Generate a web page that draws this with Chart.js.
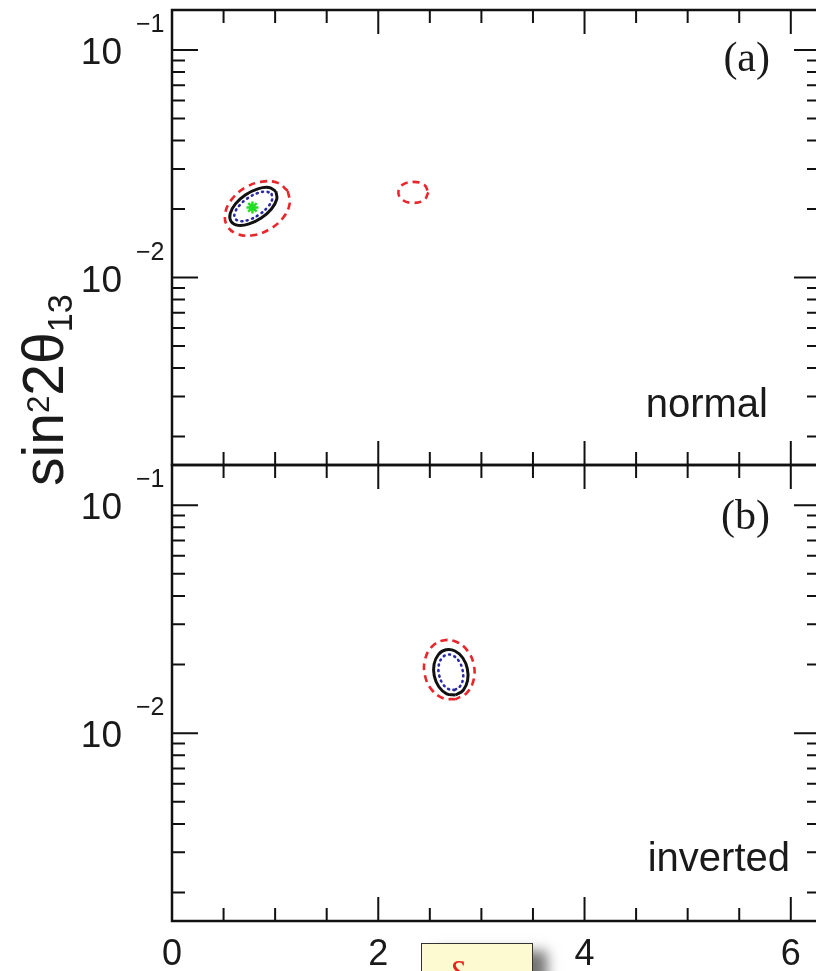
<!DOCTYPE html>
<html lang="en">
<head>
  <meta charset="UTF-8" />
  <title>sin²2θ13 vs δ</title>
  <script src="https://cdn.jsdelivr.net/npm/chart.js"></script>
  <style>
    html, body {
      margin: 0;
      background: #fff;
      overflow: hidden;
    }
    body {
      position: relative;
      width: 816px;
      height: 971px;
      font-family: "Liberation Sans", Arial, sans-serif;
    }
    canvas {
      position: absolute;
      left: 0;
      top: 0;
    }
    #ytitle {
      position: absolute;
      left: 15px;
      top: 486px;
      font-size: 57px;
      line-height: 57px;
      color: #1a1a1a;
      white-space: nowrap;
      transform-origin: 0 0;
      transform: rotate(-90deg);
    }
    #ytitle sup, #ytitle sub {
      line-height: 0;
      font-size: 0.6em;
    }
    #ytitle sup { vertical-align: 0.45em; font-size: 0.55em; }
    #ytitle sub { vertical-align: -0.25em; }
    #dbox {
      position: absolute;
      left: 421px;
      top: 943px;
      width: 110px;
      height: 60px;
      background: #fdfad2;
      border: 1.5px solid #333;
      box-shadow: 14px 8px 12px rgba(0,0,0,0.55);
    }
    #dbox span {
      position: absolute;
      left: 26px;
      top: 12px;
      font: 40px "Liberation Serif", serif;
      line-height: 40px;
      color: #e8231c;
    }
  </style>
</head>
<body>

  <canvas id="topChart" width="830" height="971"></canvas>
  <canvas id="botChart" width="830" height="971"></canvas>
  <div id="ytitle">sin<sup>2</sup>2θ<sub>13</sub></div>
  <div id="dbox"><span>δ</span></div>

  <script>
    // axis ticks
    const xMajorTicks = [0, 2, 4, 6];
    const xTickLabels = ["0", "2", "4", "6"];
    const xMinorTicks = [0.5, 1, 1.5, 2.5, 3, 3.5, 4.5, 5, 5.5];
    const yMajorTicks = [0.1, 0.01];
    const yExponents = ["\u22121", "\u22122"];
    const yMinorTicks = [0.002, 0.003, 0.004, 0.005, 0.006, 0.007, 0.008, 0.009,
                         0.02, 0.03, 0.04, 0.05, 0.06, 0.07, 0.08, 0.09];

    // (a) normal hierarchy
    const aRedDelta   = [1.122, 1.141, 1.077, 0.945, 0.782, 0.633, 0.535, 0.516, 0.581, 0.712, 0.875, 1.025];
    const aRedSin     = [0.02405, 0.02114, 0.01832, 0.01630, 0.01534, 0.01553, 0.01686, 0.01918, 0.02211, 0.02487, 0.02640, 0.02608];
    const aBlackDelta = [1.007, 1.016, 0.964, 0.865, 0.747, 0.640, 0.573, 0.564, 0.615, 0.714, 0.832, 0.940];
    const aBlackSin   = [0.02395, 0.02213, 0.02003, 0.01827, 0.01721, 0.01696, 0.01764, 0.01908, 0.02108, 0.02311, 0.02455, 0.02489];
    const aBlueDelta  = [0.966, 0.970, 0.924, 0.844, 0.748, 0.664, 0.613, 0.609, 0.655, 0.735, 0.831, 0.916];
    const aBlueSin    = [0.02328, 0.02195, 0.02032, 0.01889, 0.01796, 0.01770, 0.01814, 0.01924, 0.02078, 0.02235, 0.02352, 0.02385];
    const aIslandDelta = [2.485, 2.447, 2.340, 2.234, 2.195, 2.234, 2.340, 2.447];
    const aIslandSin   = [0.02368, 0.02195, 0.02129, 0.02195, 0.02368, 0.02556, 0.02634, 0.02556];
    const aBestDelta = [0.780];
    const aBestSin   = [0.02034];

    // (b) inverted hierarchy
    const bRedDelta   = [2.749, 2.623, 2.514, 2.452, 2.453, 2.518, 2.629, 2.755, 2.864, 2.926, 2.924, 2.859];
    const bRedSin     = [0.01408, 0.01426, 0.01560, 0.01797, 0.02101, 0.02388, 0.02551, 0.02518, 0.02302, 0.01997, 0.01708, 0.01503];
    const bBlackDelta = [2.750, 2.663, 2.587, 2.543, 2.541, 2.583, 2.657, 2.744, 2.820, 2.864, 2.866, 2.824];
    const bBlackSin   = [0.01470, 0.01488, 0.01598, 0.01783, 0.02005, 0.02211, 0.02320, 0.02293, 0.02136, 0.01914, 0.01701, 0.01543];
    const bBlueDelta  = [2.739, 2.677, 2.623, 2.590, 2.586, 2.615, 2.668, 2.730, 2.784, 2.817, 2.821, 2.792];
    const bBlueSin    = [0.01545, 0.01564, 0.01652, 0.01801, 0.01975, 0.02129, 0.02209, 0.02182, 0.02065, 0.01895, 0.01727, 0.01603];

    const X_MAX = 6.2832;
    const Y_MIN = 0.0015, Y_MAX = 0.15;

    // closed contour: join the arrays and repeat the first point at the end
    function loop(xs, ys) {
      const pts = xs.map((v, i) => ({ x: v, y: ys[i] }));
      pts.push({ x: xs[0], y: ys[0] });
      return pts;
    }

    function red(pts)   { return { data: pts, showLine: true, borderColor: '#e8262b', borderWidth: 2.6, borderDash: [7, 5], tension: 0.4, pointRadius: 0 }; }
    function black(pts) { return { data: pts, showLine: true, borderColor: '#111', borderWidth: 3, tension: 0.4, pointRadius: 0 }; }
    function blue(pts)  { return { data: pts, showLine: true, borderColor: '#2a2aa8', borderWidth: 2.6, borderDash: [1, 4.5], borderCapStyle: 'round', tension: 0.4, pointRadius: 0 }; }

    const axisPlugin = {
      id: 'axisFrame',
      afterDraw(chart, args, o) {
        const { ctx, chartArea: a } = chart;
        const x = chart.scales.x, y = chart.scales.y;
        ctx.save();
        ctx.strokeStyle = '#111';
        ctx.lineWidth = 2;
        ctx.beginPath();
        const xt = (v, len) => {
          const px = x.getPixelForValue(v);
          ctx.moveTo(px, a.bottom); ctx.lineTo(px, a.bottom - len);
          ctx.moveTo(px, a.top); ctx.lineTo(px, a.top + len);
        };
        const yt = (v, len) => {
          const py = y.getPixelForValue(v);
          ctx.moveTo(a.left, py); ctx.lineTo(a.left + len, py);
          ctx.moveTo(a.right, py); ctx.lineTo(a.right - len, py);
        };
        xMajorTicks.forEach(v => xt(v, 24));
        xMinorTicks.forEach(v => xt(v, 13));
        yMajorTicks.forEach(v => yt(v, 26));
        yMinorTicks.forEach(v => yt(v, 13));
        ctx.stroke();

        ctx.lineWidth = 2.5;
        ctx.strokeRect(a.left, a.top, a.right - a.left, a.bottom - a.top);

        ctx.fillStyle = '#1a1a1a';
        ctx.textBaseline = 'alphabetic';
        yMajorTicks.forEach((v, i) => {
          const py = y.getPixelForValue(v);
          ctx.font = '37px "Liberation Sans", Arial, sans-serif';
          ctx.textAlign = 'right';
          ctx.fillText('10', a.left - 50, py + 14);
          ctx.font = '25px "Liberation Sans", Arial, sans-serif';
          ctx.textAlign = 'left';
          ctx.fillText(yExponents[i], a.left - 36, py - 18);
        });

        if (o.xLabels) {
          ctx.font = '36px "Liberation Sans", Arial, sans-serif';
          ctx.textAlign = 'center';
          xMajorTicks.forEach((v, i) => {
            ctx.fillText(xTickLabels[i], x.getPixelForValue(v), a.bottom + 44);
          });
        }

        ctx.textAlign = 'right';
        ctx.font = '42px "Liberation Serif", serif';
        ctx.fillText(o.tag, 770, o.tagY);
        ctx.font = '40px "Liberation Sans", Arial, sans-serif';
        ctx.fillText(o.note, o.noteX, o.noteY);
        ctx.restore();
      }
    };

    function makePanel(id, padTop, padBottom, datasets, labels) {
      return new Chart(document.getElementById(id), {
        type: 'scatter',
        data: { datasets: datasets },
        options: {
          responsive: false,
          animation: false,
          events: [],
          layout: { padding: { left: 172, right: 10, top: padTop, bottom: padBottom } },
          scales: {
            x: { type: 'linear', min: 0, max: X_MAX, bounds: 'data', display: false },
            y: { type: 'logarithmic', min: Y_MIN, max: Y_MAX, bounds: 'data', display: false }
          },
          plugins: {
            legend: { display: false },
            tooltip: { enabled: false },
            axisFrame: labels
          }
        },
        plugins: [axisPlugin]
      });
    }

    makePanel('topChart', 10, 506, [
      red(loop(aRedDelta, aRedSin)),
      red(loop(aIslandDelta, aIslandSin)),
      black(loop(aBlackDelta, aBlackSin)),
      blue(loop(aBlueDelta, aBlueSin)),
      {
        data: aBestDelta.map((v, i) => ({ x: v, y: aBestSin[i] })),
        pointStyle: 'star', pointRadius: 6, pointBorderWidth: 2.5,
        pointBorderColor: '#22dd22', pointBackgroundColor: '#22dd22'
      }
    ], { tag: '(a)', tagY: 71, note: 'normal', noteX: 768, noteY: 417, xLabels: false });

    makePanel('botChart', 465, 50, [
      red(loop(bRedDelta, bRedSin)),
      black(loop(bBlackDelta, bBlackSin)),
      blue(loop(bBlueDelta, bBlueSin))
    ], { tag: '(b)', tagY: 529, note: 'inverted', noteX: 790, noteY: 871, xLabels: true });
  </script>

</body>
</html>
